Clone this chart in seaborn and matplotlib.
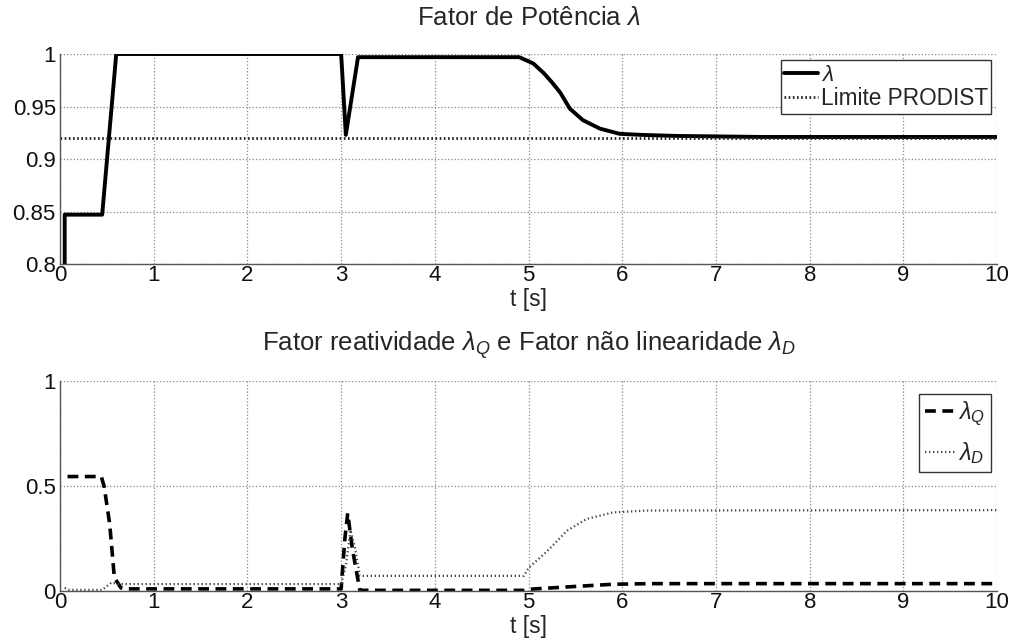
import numpy as np
import pandas as pd
import matplotlib
matplotlib.use("Agg")
import matplotlib.pyplot as plt
import seaborn as sns


# Data

t_lam = [0.05, 0.05, 0.45, 0.6, 3.0, 3.05, 3.18, 4.9, 5.0, 5.05, 5.16, 5.25,
         5.34, 5.44, 5.58, 5.76, 5.97, 6.2, 6.57, 7.5, 10.0]
lam = [0.79, 0.847, 0.847, 1.0, 1.0, 0.923, 0.997, 0.997, 0.993, 0.991, 0.982,
       0.973, 0.963, 0.948, 0.937, 0.929, 0.924, 0.923, 0.922, 0.921, 0.921]

t_lim = [0.0, 10.0]
lim = [0.92, 0.92]

t_q = [0.08, 0.44, 0.47, 0.53, 0.58, 0.65, 0.7, 3.0, 3.04, 3.07, 3.12, 3.2,
       4.95, 5.0, 5.4, 5.9, 6.3, 10.0]
lam_q = [0.545, 0.545, 0.5, 0.32, 0.064, 0.015, 0.01, 0.01, 0.25, 0.37, 0.2,
         0.003, 0.003, 0.008, 0.019, 0.032, 0.035, 0.035]

t_d = [0.05, 0.1, 0.45, 0.55, 0.62, 3.0, 3.05, 3.1, 3.15, 3.2, 4.95, 5.0,
       5.2, 5.41, 5.62, 5.9, 6.26, 10.0]
lam_d = [0.015, 0.005, 0.005, 0.04, 0.033, 0.033, 0.12, 0.29, 0.2, 0.072,
         0.072, 0.11, 0.19, 0.287, 0.343, 0.374, 0.383, 0.385]

x_ticks = list(range(0, 11))
top_yticks = [0.8, 0.85, 0.9, 0.95, 1.0]
top_ylabels = ["0.8", "0.85", "0.9", "0.95", "1"]
bot_yticks = [0, 0.5, 1]
bot_ylabels = ["0", "0.5", "1"]


sns.set_style("white")

plt.rcParams['font.family'] = ['Liberation Sans', 'DejaVu Sans']
plt.rcParams['mathtext.fontset'] = 'custom'
plt.rcParams['mathtext.rm'] = 'Liberation Sans'
plt.rcParams['mathtext.it'] = 'Liberation Sans:italic'
plt.rcParams['font.size'] = 16

fig = plt.figure(figsize=(10.12, 6.43), dpi=100)

ax1 = fig.add_axes([0.0593, 0.5894, 0.926, 0.3266])
ax2 = fig.add_axes([0.0593, 0.0809, 0.926, 0.3266])


def style_axes(ax, yticks, ylabels, ylim):

    ax.set_xlim(0, 10)
    ax.set_ylim(*ylim)

    ax.set_xticks(x_ticks)
    ax.set_xticklabels([str(v) for v in x_ticks])
    ax.set_yticks(yticks)
    ax.set_yticklabels(ylabels)

    ax.grid(True, linestyle=':', color='#888888', linewidth=0.9)

    for side in ["top", "right"]:
        ax.spines[side].set_visible(False)

    for side in ["left", "bottom"]:
        ax.spines[side].set_color('#555555')
        ax.spines[side].set_linewidth(1.0)

    ax.tick_params(
        direction='in',
        length=5,
        width=0.8,
        colors='#555555',
        labelcolor='#111111',
        labelsize=16,
        pad=1
    )
    ax.tick_params(axis='y', pad=3)

    ax.set_xlabel("t [s]", fontsize=16.5, labelpad=1)
    ax.set_ylabel("")


# Top: power factor

sns.lineplot(
    x=t_lam, y=lam, ax=ax1,
    estimator=None, sort=False,
    color='black', linewidth=2.8,
    label=r'$\lambda$'
)

sns.lineplot(
    x=t_lim, y=lim, ax=ax1,
    estimator=None, sort=False,
    color='#222222', linewidth=2.0,
    linestyle=(0, (0.6, 0.9)),
    label='Limite PRODIST'
)

style_axes(ax1, top_yticks, top_ylabels, (0.8, 1.0))

ax1.set_title(r'Fator de Potência $\lambda$', fontsize=18.5, pad=21)

leg1 = ax1.legend(
    loc='upper right',
    bbox_to_anchor=(0.9985, 0.995),
    fontsize=16.3,
    handlelength=1.5,
    handletextpad=0.1,
    borderpad=0.15,
    labelspacing=0.05,
    borderaxespad=0.2,
    fancybox=False,
    framealpha=1
)
leg1.get_frame().set_edgecolor('#333333')
leg1.get_frame().set_linewidth(1.0)


# Bottom: reactivity and non-linearity factors

sns.lineplot(
    x=t_q, y=lam_q, ax=ax2,
    estimator=None, sort=False,
    color='black', linewidth=2.6,
    linestyle=(0, (3, 1.8)),
    label=r'$\lambda_Q$'
)

sns.lineplot(
    x=t_d, y=lam_d, ax=ax2,
    estimator=None, sort=False,
    color='#444444', linewidth=1.6,
    linestyle=(0, (0.6, 1.2)),
    label=r'$\lambda_D$'
)

style_axes(ax2, bot_yticks, bot_ylabels, (0, 1))

ax2.set_title(
    r'Fator reatividade $\lambda_Q$ e Fator não linearidade $\lambda_D$',
    fontsize=18.5, pad=22
)

leg2 = ax2.legend(
    loc='upper right',
    bbox_to_anchor=(0.9985, 0.96),
    fontsize=17,
    handlelength=1.3,
    handletextpad=0.1,
    borderpad=0.25,
    labelspacing=0.5,
    borderaxespad=0.2,
    fancybox=False,
    framealpha=1
)
leg2.get_frame().set_edgecolor('#333333')
leg2.get_frame().set_linewidth(1.0)


plt.savefig("out.png", dpi=100)

plt.close()
